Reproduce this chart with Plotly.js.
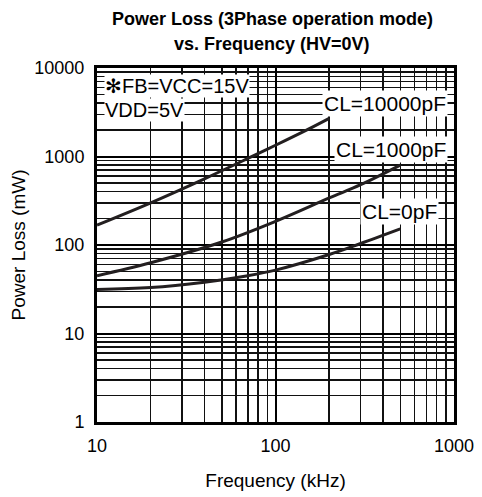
<!DOCTYPE html>
<html>
<head>
<meta charset="utf-8">
<script src="https://cdn.plot.ly/plotly-3.0.1.min.js"></script>
<style>html,body{margin:0;padding:0;background:#fff;}#chart{width:482px;height:497px;}</style>
</head>
<body>
<div id="chart"></div>
<script>
// Frequency (kHz) and power loss (mW)
const freqCL10000 = [10, 20, 40, 70, 100, 150, 200];
const lossCL10000 = [168, 300, 560, 950, 1340, 2000, 2700];
const freqCL1000 = [10, 20, 50, 100, 200, 300, 500];
const lossCL1000 = [45, 63, 108, 185, 340, 480, 800];
const freqCL0 = [10, 20, 40, 70, 100, 200, 300, 500];
const lossCL0 = [31.5, 33, 38, 45, 52, 78, 104, 152];

const xTickVals = [10, 100, 1000];
const xTickText = ["10", "100", "1000"];
const yTickVals = [1, 10, 100, 1000, 10000];
const yTickText = ["1", "10", "100", "1000", "10000"];

const titleLines = ["Power Loss (3Phase operation mode)", "vs. Frequency (HV=0V)"];
const xTitle = "Frequency (kHz)";
const yTitle = "Power Loss (mW)";
const noteLines = ["✻FB=VCC=15V", "VDD=5V"];
const curveLabels = ["CL=10000pF", "CL=1000pF", "CL=0pF"];

function minorVals(lo, hi) {
  const out = [];
  for (let d = lo; d < hi; d *= 10) {
    for (let k = 2; k <= 9; k++) out.push(k * d);
  }
  return out;
}

const lineStyle = {color: '#231f20', width: 3, shape: 'spline'};
const traces = [
  {x: freqCL10000, y: lossCL10000, mode: 'lines', line: lineStyle, hoverinfo: 'skip'},
  {x: freqCL1000, y: lossCL1000, mode: 'lines', line: lineStyle, hoverinfo: 'skip'},
  {x: freqCL0, y: lossCL0, mode: 'lines', line: lineStyle, hoverinfo: 'skip'}
];

const FONT = 'Liberation Sans, Arial, sans-serif';
const L = 97, R = 454, T = 68, B = 422;
const px = p => (p - L) / (R - L);
const py = p => (B - p) / (B - T);
const ANN = 20;

const annotations = [
  {text: '<b>' + titleLines[0] + '</b>', xref: 'paper', yref: 'paper', x: px(272), y: py(19), xanchor: 'center', yanchor: 'middle', showarrow: false, font: {family: FONT, size: 18, color: '#000'}},
  {text: '<b>' + titleLines[1] + '</b>', xref: 'paper', yref: 'paper', x: px(272), y: py(44), xanchor: 'center', yanchor: 'middle', showarrow: false, font: {family: FONT, size: 18, color: '#000'}},
  {text: noteLines[0], xref: 'paper', yref: 'paper', x: px(104), y: py(86), xanchor: 'left', yanchor: 'middle', showarrow: false, bgcolor: '#fff', borderpad: 0, font: {family: FONT, size: ANN, color: '#000'}},
  {text: noteLines[1], xref: 'paper', yref: 'paper', x: px(104), y: py(110), xanchor: 'left', yanchor: 'middle', showarrow: false, bgcolor: '#fff', borderpad: 0, font: {family: FONT, size: ANN, color: '#000'}},
  {text: curveLabels[0], xref: 'paper', yref: 'paper', x: px(448), y: py(103), xanchor: 'right', yanchor: 'middle', showarrow: false, bgcolor: '#fff', borderpad: 1, font: {family: FONT, size: 21, color: '#000'}},
  {text: curveLabels[1], xref: 'paper', yref: 'paper', x: px(448), y: py(149), xanchor: 'right', yanchor: 'middle', showarrow: false, bgcolor: '#fff', borderpad: 1, font: {family: FONT, size: 21, color: '#000'}},
  {text: curveLabels[2], xref: 'paper', yref: 'paper', x: px(439), y: py(211), xanchor: 'right', yanchor: 'middle', showarrow: false, bgcolor: '#fff', borderpad: 1, font: {family: FONT, size: 21, color: '#000'}}
];

const layout = {
  width: 482, height: 497,
  margin: {l: L, r: 482 - R, t: T, b: 497 - B},
  paper_bgcolor: '#fff', plot_bgcolor: '#fff',
  showlegend: false,
  font: {family: FONT, size: 18, color: '#000'},
  xaxis: {
    type: 'log', range: [1, 3],
    tickmode: 'array', tickvals: xTickVals, ticktext: xTickText,
    showgrid: true, gridcolor: '#000', gridwidth: 2,
    ticks: '', ticklabelstandoff: 5,
    showline: true, linecolor: '#000', linewidth: 3, mirror: true,
    zeroline: false,
    tickfont: {family: FONT, size: 18, color: '#000'},
    minor: {tickmode: 'array', tickvals: minorVals(10, 1000), showgrid: true, gridcolor: '#111', gridwidth: 1.5, ticks: ''},
    title: {text: xTitle, standoff: 20, font: {family: FONT, size: 19, color: '#000'}}
  },
  yaxis: {
    type: 'log', range: [0, 4],
    tickmode: 'array', tickvals: yTickVals, ticktext: yTickText,
    showgrid: true, gridcolor: '#000', gridwidth: 2,
    ticks: '', ticklabelstandoff: 6,
    showline: true, linecolor: '#000', linewidth: 3, mirror: true,
    zeroline: false,
    tickfont: {family: FONT, size: 18, color: '#000'},
    minor: {tickmode: 'array', tickvals: minorVals(1, 10000), showgrid: true, gridcolor: '#111', gridwidth: 1.5, ticks: ''},
    title: {text: yTitle, standoff: 4, font: {family: FONT, size: 19, color: '#000'}}
  },
  annotations: annotations
};

Plotly.newPlot('chart', traces, layout, {staticPlot: true, displayModeBar: false});
</script>
</body>
</html>
